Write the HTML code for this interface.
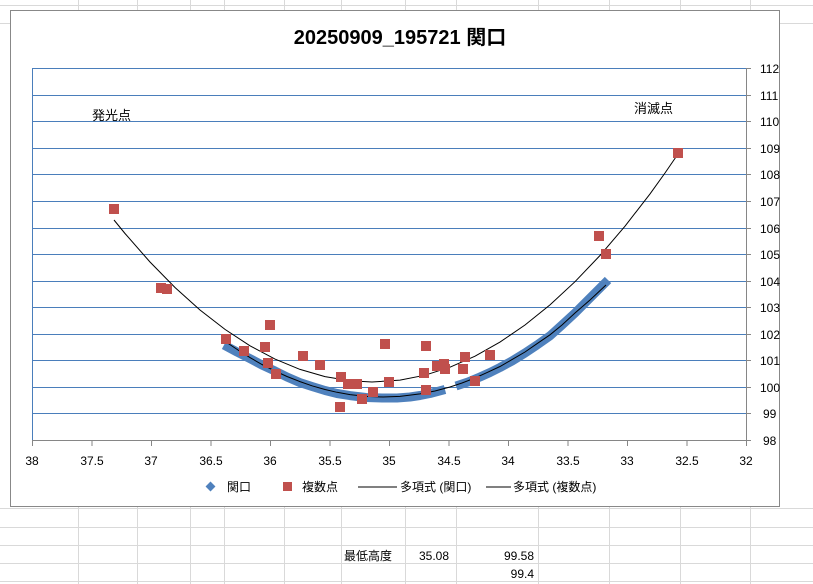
<!DOCTYPE html>
<html><head><meta charset="utf-8"><style>
body{margin:0;width:813px;height:584px;overflow:hidden;background:#fff;font-family:"Liberation Sans","Noto Sans CJK JP",sans-serif}
svg{position:absolute;left:0;top:0}
</style></head><body>
<svg width="813" height="584" viewBox="0 0 813 584" xmlns="http://www.w3.org/2000/svg">
<g stroke="#d9d9d9" stroke-width="1">
<line x1="78.5" y1="0" x2="78.5" y2="584"/><line x1="137.5" y1="0" x2="137.5" y2="584"/><line x1="190.5" y1="0" x2="190.5" y2="584"/><line x1="224.5" y1="0" x2="224.5" y2="584"/><line x1="284.5" y1="0" x2="284.5" y2="584"/><line x1="341.5" y1="0" x2="341.5" y2="584"/><line x1="405.5" y1="0" x2="405.5" y2="584"/><line x1="456.5" y1="0" x2="456.5" y2="584"/><line x1="538.5" y1="0" x2="538.5" y2="584"/><line x1="609.5" y1="0" x2="609.5" y2="584"/><line x1="680.5" y1="0" x2="680.5" y2="584"/><line x1="750.5" y1="0" x2="750.5" y2="584"/>
<line x1="0" y1="5.5" x2="813" y2="5.5"/><line x1="0" y1="23.5" x2="813" y2="23.5"/>
<line x1="0" y1="508.5" x2="813" y2="508.5"/><line x1="0" y1="527.5" x2="813" y2="527.5"/><line x1="0" y1="545.5" x2="813" y2="545.5"/><line x1="0" y1="563.5" x2="813" y2="563.5"/><line x1="0" y1="581.5" x2="813" y2="581.5"/>
</g>
<rect x="10.5" y="10.5" width="769" height="496" fill="#fff" stroke="#888" stroke-width="1"/>
<text x="400" y="44" text-anchor="middle" font-size="20" font-weight="bold" font-family="Liberation Sans,Noto Sans CJK JP,sans-serif">20250909_195721 関口</text>
<g stroke="#4a7ebb" stroke-width="1">
<line x1="32" y1="68.5" x2="746" y2="68.5"/><line x1="32" y1="95.5" x2="746" y2="95.5"/><line x1="32" y1="121.5" x2="746" y2="121.5"/><line x1="32" y1="148.5" x2="746" y2="148.5"/><line x1="32" y1="174.5" x2="746" y2="174.5"/><line x1="32" y1="201.5" x2="746" y2="201.5"/><line x1="32" y1="228.5" x2="746" y2="228.5"/><line x1="32" y1="254.5" x2="746" y2="254.5"/><line x1="32" y1="281.5" x2="746" y2="281.5"/><line x1="32" y1="307.5" x2="746" y2="307.5"/><line x1="32" y1="334.5" x2="746" y2="334.5"/><line x1="32" y1="360.5" x2="746" y2="360.5"/><line x1="32" y1="387.5" x2="746" y2="387.5"/><line x1="32" y1="413.5" x2="746" y2="413.5"/>
<line x1="32.5" y1="68" x2="32.5" y2="440"/>
</g>
<g stroke="#868686" stroke-width="1">
<line x1="32" y1="440.5" x2="746" y2="440.5"/><line x1="746.5" y1="68" x2="746.5" y2="440"/>
<line x1="32.5" y1="440" x2="32.5" y2="446"/><line x1="92" y1="440" x2="92" y2="446"/><line x1="151.5" y1="440" x2="151.5" y2="446"/><line x1="211" y1="440" x2="211" y2="446"/><line x1="270.5" y1="440" x2="270.5" y2="446"/><line x1="330" y1="440" x2="330" y2="446"/><line x1="389.5" y1="440" x2="389.5" y2="446"/><line x1="449" y1="440" x2="449" y2="446"/><line x1="508.5" y1="440" x2="508.5" y2="446"/><line x1="568" y1="440" x2="568" y2="446"/><line x1="627.5" y1="440" x2="627.5" y2="446"/><line x1="687" y1="440" x2="687" y2="446"/><line x1="746.5" y1="440" x2="746.5" y2="446"/>
<line x1="746" y1="68.5" x2="751" y2="68.5"/><line x1="746" y1="95.5" x2="751" y2="95.5"/><line x1="746" y1="121.5" x2="751" y2="121.5"/><line x1="746" y1="148.5" x2="751" y2="148.5"/><line x1="746" y1="174.5" x2="751" y2="174.5"/><line x1="746" y1="201.5" x2="751" y2="201.5"/><line x1="746" y1="228.5" x2="751" y2="228.5"/><line x1="746" y1="254.5" x2="751" y2="254.5"/><line x1="746" y1="281.5" x2="751" y2="281.5"/><line x1="746" y1="307.5" x2="751" y2="307.5"/><line x1="746" y1="334.5" x2="751" y2="334.5"/><line x1="746" y1="360.5" x2="751" y2="360.5"/><line x1="746" y1="387.5" x2="751" y2="387.5"/><line x1="746" y1="413.5" x2="751" y2="413.5"/><line x1="746" y1="440.5" x2="751" y2="440.5"/>
</g>
<g font-size="12" fill="#000" text-anchor="middle">
<text x="32" y="465">38</text><text x="92" y="465">37.5</text><text x="151" y="465">37</text><text x="211" y="465">36.5</text><text x="270" y="465">36</text><text x="330" y="465">35.5</text><text x="389" y="465">35</text><text x="449" y="465">34.5</text><text x="508" y="465">34</text><text x="568" y="465">33.5</text><text x="627" y="465">33</text><text x="687" y="465">32.5</text><text x="746" y="465">32</text>
</g>
<g font-size="12" fill="#000">
<text x="760" y="73">112</text><text x="760" y="100">111</text><text x="760" y="126">110</text><text x="760" y="153">109</text><text x="760" y="179">108</text><text x="760" y="206">107</text><text x="760" y="233">106</text><text x="760" y="259">105</text><text x="760" y="286">104</text><text x="760" y="312">103</text><text x="760" y="339">102</text><text x="760" y="365">101</text><text x="760" y="392">100</text><text x="763" y="418">99</text><text x="763" y="445">98</text>
</g>
<text x="92" y="120" font-size="13">発光点</text>
<text x="634" y="113" font-size="13">消滅点</text>
<g fill="none" stroke="#4f81bd" stroke-linejoin="round">
<polyline stroke-width="9" points="224,345 237,352 250,358.6 262,365 275,371 287,377 300,382.6 312,386.5 325,390.5 337,393.5 350,395.6 366,397.5 383,398 397,398 410,397 420,395.5 430,393.5 445,389.5"/>
<polyline stroke-width="9" points="456,386 468,382 480,377 490,372.5 500,367.5 512,361 525,353 537,345 550,335.8 562,325 575,313 585,303 595,293 608,280"/>
</g>
<polyline fill="none" stroke="#000" stroke-width="1" points="114,220 125,233.5 150,262 175,287.5 200,310 225,329.4 250,345.8 275,359.1 300,369.4 325,376.6 350,380.8 372,382 400,380.1 425,375.2 450,367.2 475,356.2 500,342.1 525,325 550,304.9 575,281.7 600,255.5 625,226.2 650,193.9 665,173 678,154"/>
<polyline fill="none" stroke="#000" stroke-width="1" points="226,342 238,350 250,357.6 262,364.5 275,371 287,376.5 300,381.6 312,385.8 325,389.5 337,392.3 350,394.6 366,396.4 383,397 400,396.4 420,393.9 435,391 450,387 462,383 475,378 487,372.6 500,366.5 512,359.6 525,352 537,343.7 550,334.8 562,325 575,313 590,300 606,285"/>
<g fill="#c0504d">
<rect x="109" y="204" width="10" height="10"/><rect x="156" y="283" width="10" height="10"/><rect x="162" y="284" width="10" height="10"/><rect x="221" y="334" width="10" height="10"/><rect x="239" y="346" width="10" height="10"/><rect x="260" y="342" width="10" height="10"/><rect x="265" y="320" width="10" height="10"/><rect x="263" y="358" width="10" height="10"/><rect x="271" y="369" width="10" height="10"/><rect x="298" y="351" width="10" height="10"/><rect x="315" y="360" width="10" height="10"/><rect x="336" y="372" width="10" height="10"/><rect x="335" y="402" width="10" height="10"/><rect x="343" y="379" width="10" height="10"/><rect x="352" y="379" width="10" height="10"/><rect x="357" y="394" width="10" height="10"/><rect x="368" y="387" width="10" height="10"/><rect x="380" y="339" width="10" height="10"/><rect x="384" y="377" width="10" height="10"/><rect x="421" y="341" width="10" height="10"/><rect x="419" y="368" width="10" height="10"/><rect x="421" y="385" width="10" height="10"/><rect x="432" y="361" width="10" height="10"/><rect x="439" y="359" width="10" height="10"/><rect x="440" y="364" width="10" height="10"/><rect x="460" y="352" width="10" height="10"/><rect x="458" y="364" width="10" height="10"/><rect x="470" y="376" width="10" height="10"/><rect x="485" y="350" width="10" height="10"/><rect x="594" y="231" width="10" height="10"/><rect x="601" y="249" width="10" height="10"/><rect x="673" y="148" width="10" height="10"/>
</g>
<rect x="207" y="483" width="7" height="7" fill="#4f81bd" transform="rotate(45 210.5 486.5)"/>
<text x="227" y="491" font-size="12">関口</text>
<rect x="283" y="482" width="9" height="9" fill="#c0504d"/>
<text x="302" y="491" font-size="12">複数点</text>
<line x1="358" y1="487" x2="397" y2="487" stroke="#000"/>
<text x="400" y="491" font-size="12">多項式 (関口)</text>
<line x1="486" y1="487" x2="511" y2="487" stroke="#000"/>
<text x="513" y="491" font-size="12">多項式 (複数点)</text>
<g font-size="12">
<text x="344" y="560">最低高度</text><text x="419" y="560">35.08</text>
<text x="534" y="560" text-anchor="end">99.58</text><text x="534" y="578" text-anchor="end">99.4</text>
</g>
</svg>
</body></html>
